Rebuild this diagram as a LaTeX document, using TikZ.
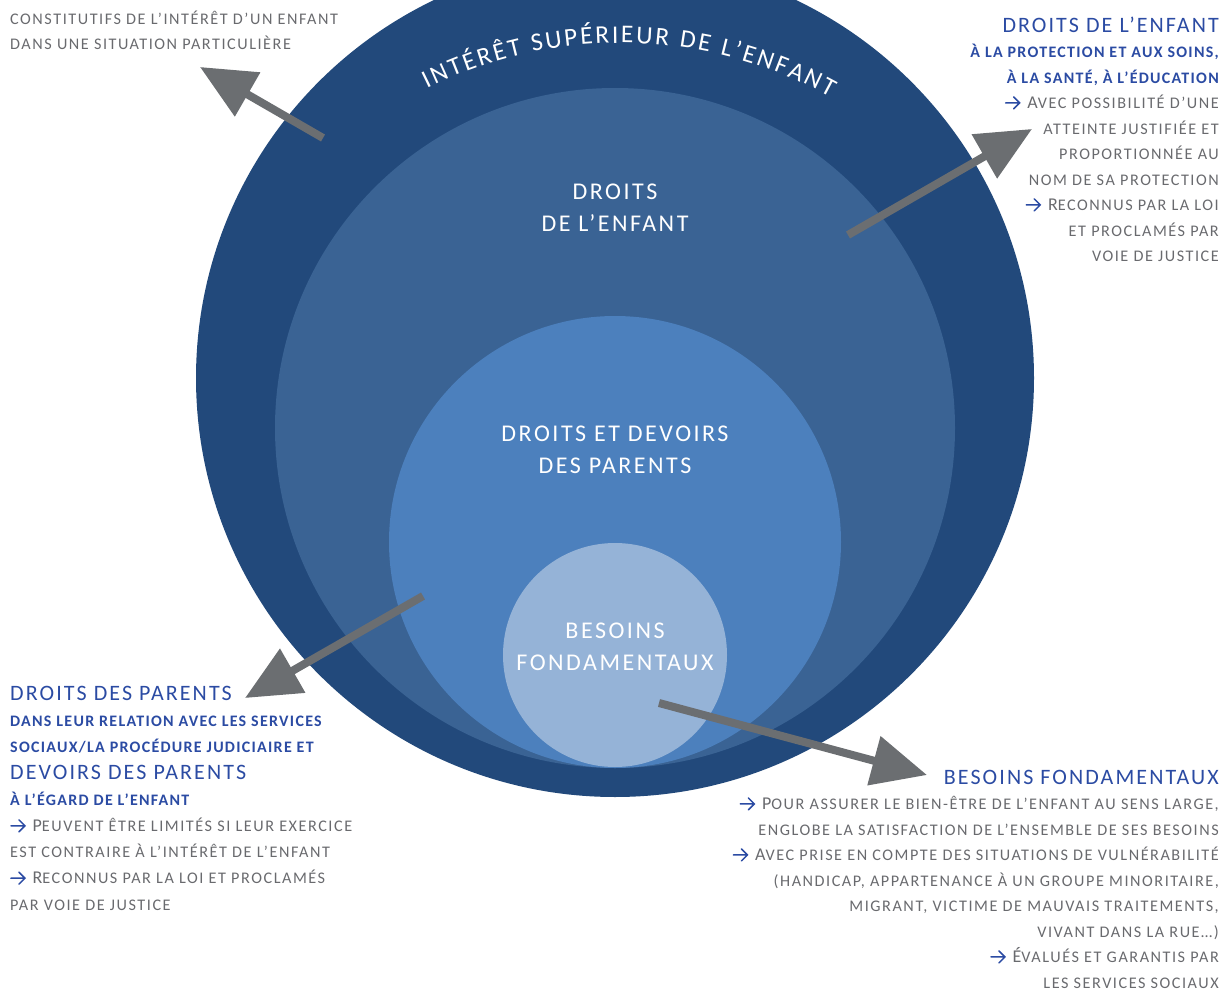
\documentclass[tikz,border=0pt]{standalone}
\usepackage{fontspec}
\setmainfont{Carlito}
\usetikzlibrary{arrows.meta,decorations.text}
\definecolor{cA}{HTML}{22497B}
\definecolor{cB}{HTML}{3A6394}
\definecolor{cC}{HTML}{4C80BD}
\definecolor{cD}{HTML}{95B3D7}
\definecolor{tblue}{HTML}{2B4BA3}
\definecolor{tgray}{HTML}{696A6E}
\definecolor{agray}{HTML}{6B6E71}
\newcommand\myarr{\tikz[baseline=0pt]{\draw[tblue, line width=1.5pt, line cap=round, line join=miter]
  (0pt,5.6pt) -- (14pt,5.6pt) (8pt,11.6pt) -- (14pt,5.6pt) -- (8pt,-0.4pt);}\hspace{7pt}}
\newcommand\ttl{\color{tblue}\fontsize{22}{25.5}\selectfont\addfontfeatures{LetterSpace=9.5}}
\newcommand\smc[1]{{\fontsize{16.2}{25.5}\selectfont\addfontfeatures{LetterSpace=9.5}\MakeUppercase{#1}}}
\newcommand\subt[1]{{\color{tblue}\bfseries\fontsize{16}{25.5}\selectfont\addfontfeatures{LetterSpace=8}\MakeUppercase{#1}}}
\begin{document}
\begin{tikzpicture}[x=1pt,y=1pt,
  gr/.style={text=tgray, inner sep=0pt, font=\fontsize{18}{25.5}\selectfont},
  inlab/.style={text=white, inner sep=0pt, align=center, font=\fontsize{24}{32}\selectfont\addfontfeatures{LetterSpace=10.5}},
  bigarrow/.style={draw=agray, line width=8pt, -{Triangle[length=55pt,width=49pt]}}]
\useasboundingbox (0,0) rectangle (1224,-990);
\clip (0,0) rectangle (1224,-990);
% circles
\fill[cA] (615,-378) circle[radius=419pt];
\fill[cB] (615,-428) circle[radius=340pt];
\fill[cC] (615,-542) circle[radius=226pt];
\fill[cD] (615,-655) circle[radius=112pt];
% curved text
\path[decorate, decoration={text along path, text align=fit to path,
  text={|\color{white}\fontsize{25.5}{25.5}\selectfont|INTÉRÊT SUPÉRIEUR DE L’ENFANT}}]
  (620,-479) ++(116.3:436pt) arc[start angle=116.3, end angle=61.2, radius=436pt];
% inner labels
\node[inlab] (lab2) at (615,-208) {DROITS\\DE L’ENFANT};
\node[inlab] (lab3) at (615,-450) {DROITS ET DEVOIRS\\DES PARENTS};
\node[inlab] (lab4) at (615,-647) {BESOINS\\FONDAMENTAUX};
% text blocks (base anchor = baseline of last line)
\node[gr, anchor=base west, align=left] (tl) at (10,-50)
  {\smc{constitutifs de l’intérêt d’un enfant}\\
   \smc{dans une situation particulière}};
\node[gr, anchor=base east, align=right] (tr) at (1219,-261.5)
  {{\ttl DROITS DE L’ENFANT}\\
   \subt{à la protection et aux soins,}\\
   \subt{à la santé, à l’éducation}\\
   \myarr A\smc{vec possibilité d’une}\\
   \smc{atteinte justifiée et}\\
   \smc{proportionnée au}\\
   \smc{nom de sa protection}\\
   \myarr R\smc{econnus par la loi}\\
   \smc{et proclamés par}\\
   \smc{voie de justice}};
\node[gr, anchor=base west, align=left, font=\fontsize{18}{26.2}\selectfont] (bl) at (10,-910)
  {{\ttl DROITS DES PARENTS}\\
   \subt{dans leur relation avec les services}\\
   \subt{sociaux/la procédure judiciaire et}\\
   {\ttl DEVOIRS DES PARENTS}\\
   \subt{à l’égard de l’enfant}\\
   \myarr P\smc{euvent être limités si leur exercice}\\
   \smc{est contraire à l’intérêt de l’enfant}\\
   \myarr R\smc{econnus par la loi et proclamés}\\
   \smc{par voie de justice}};
\node[gr, anchor=base east, align=right] (br) at (1219,-988)
  {{\ttl BESOINS FONDAMENTAUX}\\
   \myarr P\smc{our assurer le bien-être de l’enfant au sens large,}\\
   \smc{englobe la satisfaction de l’ensemble de ses besoins}\\
   \myarr A\smc{vec prise en compte des situations de vulnérabilité}\\
   \smc{(handicap, appartenance à un groupe minoritaire,}\\
   \smc{migrant, victime de mauvais traitements,}\\
   \smc{vivant dans la rue…)}\\
   \myarr É\smc{valués et garantis par}\\
   \smc{les services sociaux}};
% arrows
\coordinate (a1s) at (323,-138); \coordinate (a1e) at (200,-67);
\coordinate (a2s) at (848,-235); \coordinate (a2e) at (1032,-129);
\coordinate (a3s) at (423,-596); \coordinate (a3e) at (245,-698);
\coordinate (a4s) at (659,-703); \coordinate (a4e) at (927,-775);
\draw[bigarrow] (a1s) -- (a1e);
\draw[bigarrow] (a2s) -- (a2e);
\draw[bigarrow] (a3s) -- (a3e);
\draw[bigarrow] (a4s) -- (a4e);
\end{tikzpicture}
\end{document}
